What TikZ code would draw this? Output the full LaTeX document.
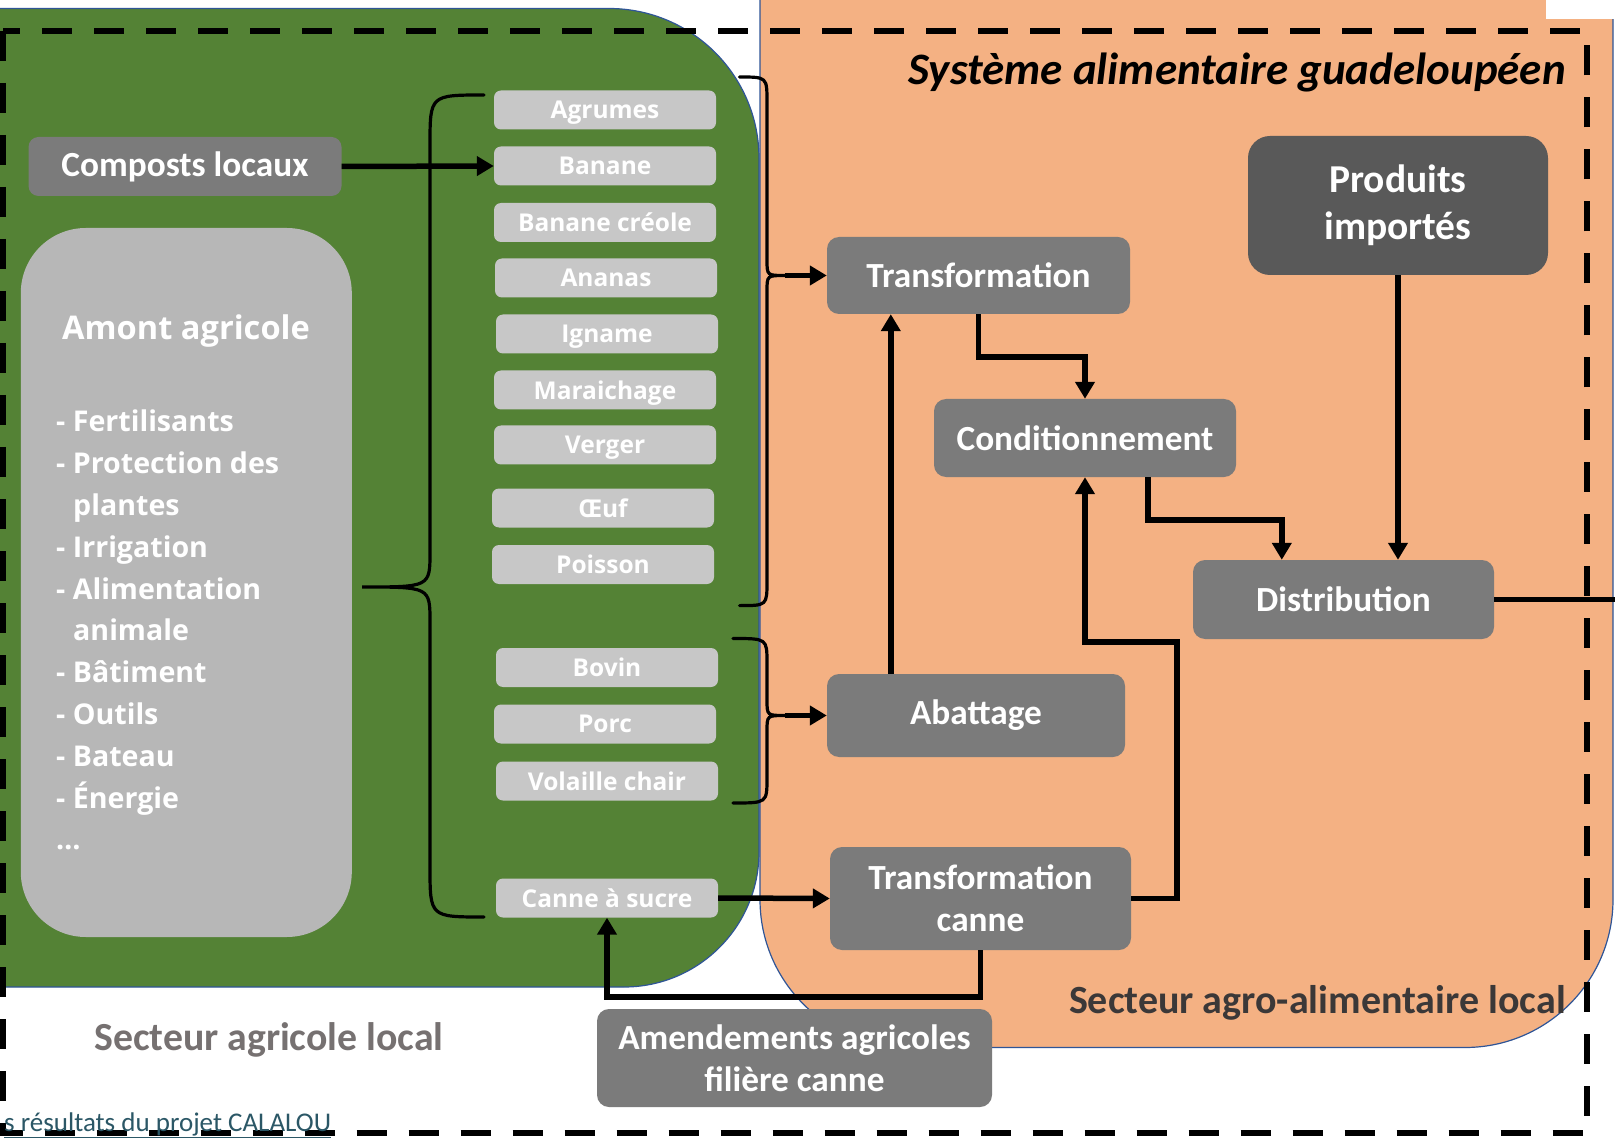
\documentclass[tikz,border=0pt]{standalone}
\usepackage{fontspec}
\setmainfont{Carlito}
\newfontfamily\osans{Open Sans}
\usetikzlibrary{arrows.meta,calc}
\definecolor{vert}{HTML}{548235}
\definecolor{peau}{HTML}{F4B183}
\definecolor{bord}{HTML}{2F5597}
\definecolor{boxgray}{HTML}{7B7B7B}
\definecolor{darkbox}{HTML}{595959}
\definecolor{cropgray}{HTML}{C7C7C7}
\definecolor{amontgray}{HTML}{B7B7B7}
\definecolor{sectgray}{HTML}{767171}
\definecolor{sectdark}{HTML}{3B3838}
\definecolor{captcol}{HTML}{2B5766}
\begin{document}
\begin{tikzpicture}[x=1pt,y=-1pt,
  bigbox/.style={fill=boxgray, draw=none, rounded corners=12pt, text=white,
    font=\bfseries\fontsize{35.3}{42}\selectfont, align=center, inner sep=0pt},
  crop/.style={fill=cropgray, rounded corners=7pt, text=white,
    font=\osans\bfseries\fontsize{24.5}{29}\selectfont,
    minimum width=222pt, minimum height=39pt, inner sep=0pt, text depth=0pt},
  arr/.style={line width=5.5pt, -{Triangle[length=17pt,width=19pt]}},
  plain/.style={line width=5pt},
  brace/.style={line width=3.2pt, line cap=round},
]
\fill[white] (0,0) rectangle (1615,1139);
\useasboundingbox (0,0) rectangle (1615,1139);

% regions
\draw[fill=vert, draw=bord, line width=1.2pt]
  (-20,8.5) -- (609,8.5) .. controls (691.8,8.5) and (759,75.7) .. (759,158.5)
  -- (759,852) .. controls (759,926.5) and (698.5,987) .. (624,987) -- (-20,987) -- cycle;
\draw[fill=peau, draw=bord, line width=1.2pt]
  (760,-20) -- (1613,-20) -- (1613,899.5) .. controls (1613,981.2) and (1546.7,1047.5) .. (1465,1047.5)
  -- (908,1047.5) .. controls (826.3,1047.5) and (760,981.2) .. (760,899.5) -- cycle;
\fill[white] (1546,-1) rectangle (1616,19);

% outer dashed frame
\draw[line width=6pt, dash pattern=on 30pt off 22pt] (2.5,31) rectangle (1587,1133);

% left column
\node[bigbox, minimum width=313pt, minimum height=59pt, rounded corners=10pt] (compost) at (185,166.5) {Composts locaux};
\node[fill=amontgray, rounded corners=65pt, minimum width=331pt, minimum height=709pt, inner sep=0pt] (amont) at (186.3,582.5) {};
\node[anchor=west, text=white, font=\osans\bfseries\fontsize{32.6}{39}\selectfont, inner sep=0pt] (amontT) at (62,331) {Amont agricole};
\node[anchor=north west, align=left, text=white, font=\osans\bfseries\fontsize{28.6}{41.8}\selectfont, inner sep=0pt] (amontL) at (56,410)
  {- Fertilisants\\- Protection des\\\hspace*{17pt}plantes\\- Irrigation\\- Alimentation\\\hspace*{17pt}animale\\- Bâtiment\\- Outils\\- Bateau\\- Énergie\\…};

% crops
\node[crop] (agrumes) at (605,110) {Agrumes};
\node[crop] (banane) at (605,166) {Banane};
\node[crop] (banc) at (605,222.5) {Banane créole};
\node[crop] (ananas) at (606,278) {Ananas};
\node[crop] (igname) at (607,334) {Igname};
\node[crop] (marai) at (605,390) {Maraichage};
\node[crop] (verger) at (605,445) {Verger};
\node[crop] (oeuf) at (603,508) {Œuf};
\node[crop] (poisson) at (603,564.5) {Poisson};
\node[crop] (bovin) at (607,667.5) {Bovin};
\node[crop] (porc) at (605,724) {Porc};
\node[crop] (volaille) at (607,781) {Volaille chair};
\node[crop] (canne) at (607,898) {Canne à sucre};

% agro-food boxes
\node[bigbox, minimum width=303pt, minimum height=77pt] (trans) at (978.5,275.5) {Transformation};
\node[bigbox, fill=darkbox, rounded corners=22pt, minimum width=300pt, minimum height=139pt,
  font=\bfseries\fontsize{39.5}{47}\selectfont] (prod) at (1398,205.5) {\raisebox{-3pt}{\parbox{280pt}{\centering Produits\\importés}}};
\node[bigbox, minimum width=302pt, minimum height=78pt] (cond) at (1085,438) {Conditionnement};
\node[bigbox, minimum width=301pt, minimum height=79pt] (dist) at (1343.5,599.5) {Distribution};
\node[bigbox, minimum width=298pt, minimum height=83pt] (abat) at (976,715.5) {Abattage};
\node[bigbox, minimum width=301pt, minimum height=103pt] (tcanne) at (980.5,898.5) {Transformation\\canne};
\node[bigbox, minimum width=395pt, minimum height=98pt] (amend) at (794.5,1058) {Amendements agricoles\\filière canne};

% labels
\node[anchor=east, font=\bfseries\itshape\fontsize{45}{50}\selectfont, inner sep=0pt] (titre) at (1566,73) {Système alimentaire guadeloupéen};
\node[text=sectgray, font=\bfseries\fontsize{39.8}{45}\selectfont, inner sep=0pt] (sagri) at (269,1040) {Secteur agricole local};
\node[anchor=east, text=sectdark, font=\bfseries\fontsize{40}{45}\selectfont, inner sep=0pt] (sagro) at (1566,1003) {Secteur agro-alimentaire local};

% braces
\draw[brace] (484,95) .. controls (430,95) .. (430,145) -- (430,552) .. controls (430,587) .. (362,587)
  .. controls (430,587) .. (430,622) -- (430,867) .. controls (430,917) .. (484,917);
\draw[brace] (739.5,77) .. controls (767,77) .. (767,102) -- (767,260) .. controls (767,275.5) .. (785,275.5)
  .. controls (767,275.5) .. (767,291) -- (767,581) .. controls (767,605.6) .. (739.5,605.6);
\draw[brace] (733,638.5) .. controls (767,638.5) .. (767,663) -- (767,700) .. controls (767,715.5) .. (785,715.5)
  .. controls (767,715.5) .. (767,731) -- (767,778) .. controls (767,803) .. (733,803);
\coordinate (rb1) at (785,275.5);
\coordinate (rb2) at (785,715.5);
\coordinate (sortie) at (1615,599.5);

% connectors
\draw[arr] (compost.east) -- (banane.west);
\draw[arr] (rb1) -- (trans.west);
\draw[arr] (rb2) -- (abat.west);
\draw[arr] (trans.south) -- ++(0,43) -| (cond.north);
\draw[arr] ($(abat.north west)+(64,0)$) -- ($(trans.south west)+(64,0)$);
\draw[arr] ($(cond.south west)+(214,0)$) -- ++(0,43) -| ($(dist.north west)+(89,0)$);
\draw[arr] (prod.south) -- (prod.south |- dist.north);
\draw[plain] (dist.east) -- (sortie);
\draw[arr] (tcanne.east) -- ++(46,0) |- ($(cond.south)+(0,165)$) -- (cond.south);
\draw[arr] (canne.east) -- (tcanne.west);
\draw[arr] (tcanne.south) -- ++(0,47) -| (canne.south);

% caption
\node[anchor=west, text=captcol, font=\fontsize{27}{30}\selectfont, inner sep=0pt] (capt) at (4,1125) {\underline{s résultats du projet CALALOU}};
\end{tikzpicture}
\end{document}
